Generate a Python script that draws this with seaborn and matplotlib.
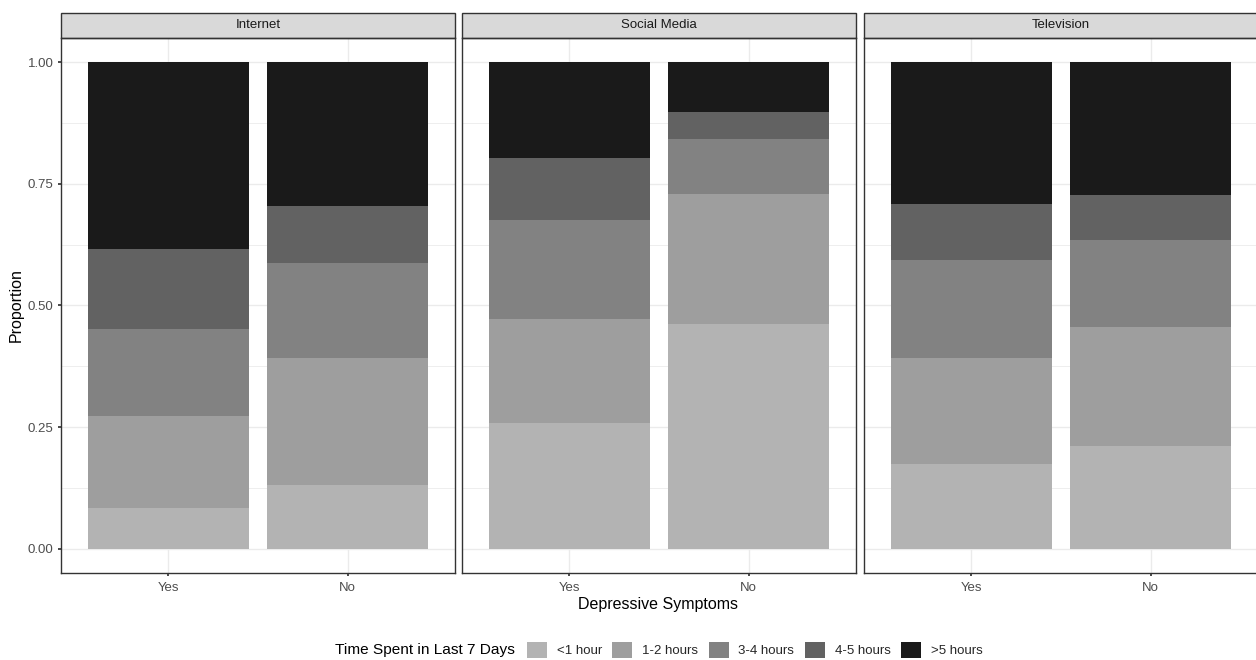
import matplotlib
matplotlib.use("Agg")
import matplotlib.pyplot as plt
import seaborn as sns
import pandas as pd
import numpy as np
from matplotlib.patches import Rectangle, Patch

sns.set_theme(style="white")
plt.rcParams['font.family'] = ['Liberation Sans', 'DejaVu Sans']

media = ["Internet", "Social Media", "Television"]
symptoms = ["Yes", "No"]
time_levels = ["<1 hour", "1-2 hours", "3-4 hours", "4-5 hours", ">5 hours"]
colors = ["#B3B3B3", "#9E9E9E", "#828282", "#626262", "#1A1A1A"]

# proportions per category (Yes, No) for each medium
internet_yes = [0.084, 0.188, 0.180, 0.164, 0.384]
internet_no = [0.131, 0.261, 0.196, 0.117, 0.295]
social_yes = [0.258, 0.214, 0.203, 0.128, 0.197]
social_no = [0.461, 0.268, 0.113, 0.056, 0.102]
tv_yes = [0.175, 0.217, 0.202, 0.115, 0.291]
tv_no = [0.211, 0.245, 0.179, 0.092, 0.273]

props = {
    "Internet": {"Yes": internet_yes, "No": internet_no},
    "Social Media": {"Yes": social_yes, "No": social_no},
    "Television": {"Yes": tv_yes, "No": tv_no},
}

rows = []
for m in media:
    for s in symptoms:
        cum = np.cumsum(props[m][s])
        for t, c in zip(time_levels, cum):
            rows.append({"media": m, "symptom": s, "time": t, "cum": c})
df = pd.DataFrame(rows)

W, H = 1256, 660
fig = plt.figure(figsize=(W / 100, H / 100), dpi=100)

panel_left = [61, 462, 864]
panel_w = 394
top_px, bot_px = 38, 573
strip_h = 25

for i, m in enumerate(media):
    ax = fig.add_axes([panel_left[i] / W, 1 - bot_px / H, panel_w / W, (bot_px - top_px) / H])
    sub = df[df.media == m]
    # draw cumulative bars from the top level down so the lighter ones overlay
    for lvl, col in reversed(list(zip(time_levels, colors))):
        d = sub[sub.time == lvl]
        sns.barplot(data=d, x="symptom", y="cum", order=symptoms, color=col,
                    width=0.9, ax=ax, saturation=1, linewidth=0, zorder=3)
    ax.set_xlim(-0.6, 1.6)
    ax.set_ylim(-0.05, 1.05)
    ax.set_yticks([0, 0.25, 0.5, 0.75, 1.0])
    ax.set_yticks([0.125, 0.375, 0.625, 0.875], minor=True)
    ax.grid(True, which="major", axis="both", color="#EBEBEB", linewidth=1.0, zorder=0)
    ax.grid(True, which="minor", axis="y", color="#EBEBEB", linewidth=0.6, zorder=0)
    ax.set_axisbelow(True)
    ax.set_xlabel("")
    ax.set_ylabel("")
    for sp in ax.spines.values():
        sp.set_color("#333333")
        sp.set_linewidth(1.0)
    ax.tick_params(axis="both", which="major", length=2.5, color="#333333",
                   labelsize=9.5, labelcolor="#4D4D4D", bottom=True, left=(i == 0), pad=3)
    ax.tick_params(axis="x", which="major", pad=4)
    ax.tick_params(axis="y", which="minor", length=0)
    if i == 0:
        ax.set_yticklabels(["0.00", "0.25", "0.50", "0.75", "1.00"])
    else:
        ax.set_yticklabels([])
    # strip
    sh = strip_h / (bot_px - top_px)
    rect = Rectangle((0, 1), 1, sh, transform=ax.transAxes, facecolor="#D9D9D9",
                     edgecolor="#333333", linewidth=1.0, clip_on=False)
    ax.add_patch(rect)
    ax.text(0.5, 1 + sh / 2, m, transform=ax.transAxes, ha="center", va="center",
            fontsize=9.5, color="#1A1A1A")

fig.text(658 / W, 1 - 605 / H, "Depressive Symptoms", ha="center", va="center",
         fontsize=11.5, color="black")
fig.text(16 / W, 1 - 305 / H, "Proportion", ha="center", va="center",
         rotation=90, fontsize=11.5, color="black")

fig.text(335 / W, 1 - 650 / H, "Time Spent in Last 7 Days", ha="left", va="center",
         fontsize=11.1, color="black")
handles = [Patch(facecolor=c, edgecolor="none") for c in colors]
leg = fig.legend(handles, time_levels, loc="center left", ncol=5,
                 bbox_to_anchor=(527 / W, 1 - 650 / H), frameon=False, fontsize=9.5,
                 handlelength=1.5, handleheight=1.5, handletextpad=0.75,
                 columnspacing=0.8, borderpad=0, borderaxespad=0)

fig.savefig("out.png", dpi=100)
